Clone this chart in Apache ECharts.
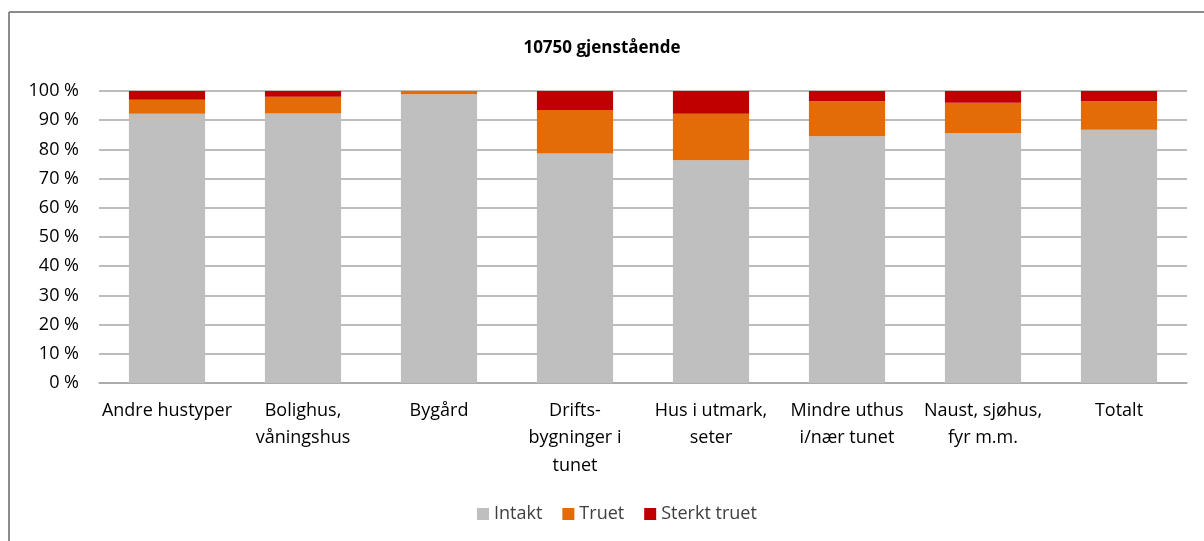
<!DOCTYPE html>
<html><head><meta charset="utf-8">
<script src="https://cdn.jsdelivr.net/npm/echarts@6/dist/echarts.min.js"></script>
<style>html,body{margin:0;padding:0;background:#fff}#c{width:1204px;height:541px}</style>
</head><body><div id="c"></div>
<script>
const categories = ["Andre hustyper","Bolighus,\nvåningshus","Bygård","Drifts-\nbygninger i\ntunet","Hus i utmark,\nseter","Mindre uthus\ni/nær tunet","Naust, sjøhus,\nfyr m.m.","Totalt"];
const intakt = [92.2, 92.3, 98.9, 78.6, 76.3, 84.5, 85.5, 86.7];
const truet = [4.8, 5.7, 1.1, 14.9, 15.9, 12.0, 10.5, 9.8];
const sterktTruet = [3.0, 2.0, 0.0, 6.5, 7.8, 3.5, 4.0, 3.5];
const yTicks = [0,10,20,30,40,50,60,70,80,90,100];

const font = "'Open Sans', 'Noto Sans', sans-serif";
const chart = echarts.init(document.getElementById('c'));
const mk = (name, data, color) => ({
  name, type:'bar', stack:'s', data, barWidth:'56%',
  itemStyle:{color}
});
chart.setOption({
  animation:false,
  title:{text:'10750 gjenstående', left:'center', top:35,
    textStyle:{fontFamily:font, fontSize:17, fontWeight:'bold', color:'#000'}},
  grid:{left:99, right:17, top:91, bottom:158},
  legend:{bottom:13, left:472, itemWidth:12, itemHeight:12, itemGap:20,
    icon:'rect', textStyle:{fontFamily:font, fontSize:18, color:'#404040'}},
  xAxis:{type:'category', data:categories,
    axisLine:{lineStyle:{color:'#a6a6a6', width:1.5}}, axisTick:{show:false},
    axisLabel:{fontFamily:font, fontSize:18, color:'#000', lineHeight:27.5, margin:14, interval:0}},
  yAxis:{type:'value', min:0, max:100, interval:10,
    axisLine:{show:false}, axisTick:{show:false},
    splitLine:{lineStyle:{color:'#a6a6a6', width:1.5}},
    axisLabel:{fontFamily:font, fontSize:18, color:'#000', margin:20,
      formatter:v => yTicks.includes(v) ? v + ' %' : ''}},
  series:[mk('Intakt', intakt, '#bfbfbf'), mk('Truet', truet, '#e36c09'), mk('Sterkt truet', sterktTruet, '#c00000')],
  graphic:[
    {type:'line', shape:{x1:9, y1:12, x2:1204, y2:12}, style:{stroke:'#8c8c8c', lineWidth:2}},
    {type:'line', shape:{x1:9, y1:12, x2:9, y2:541}, style:{stroke:'#8c8c8c', lineWidth:2}}
  ]
});
</script></body></html>
